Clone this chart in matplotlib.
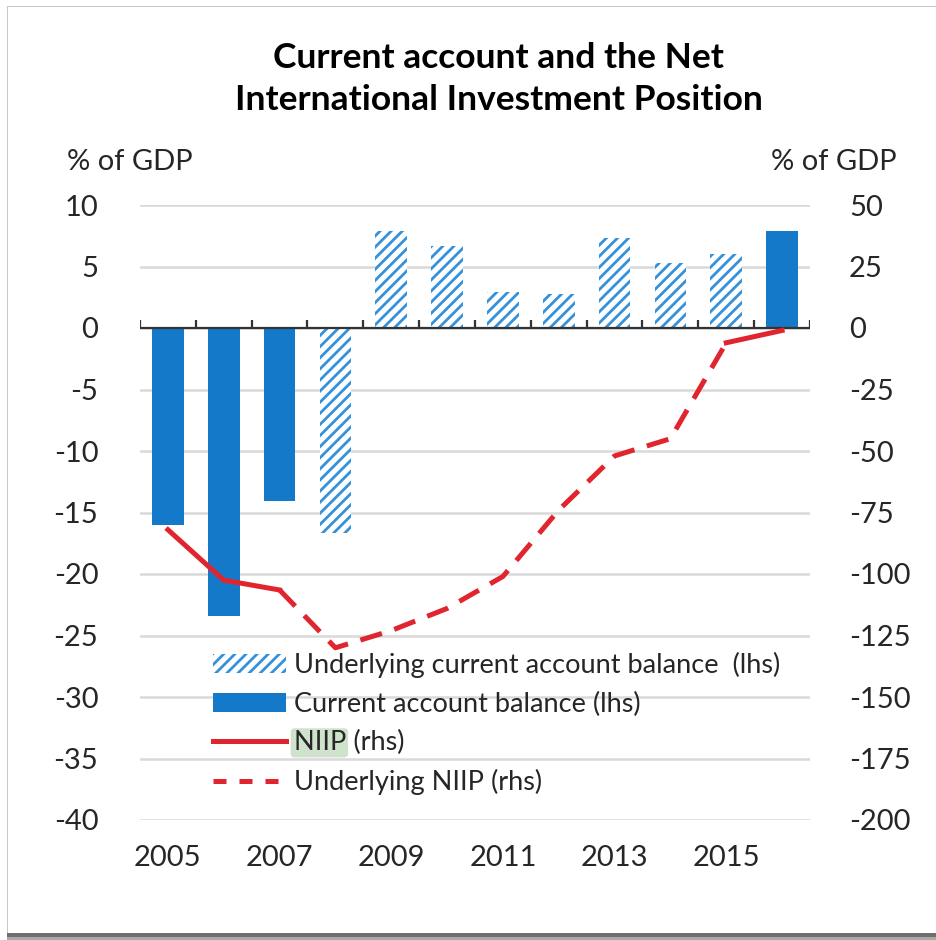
import numpy as np
import matplotlib
matplotlib.use('Agg')
import matplotlib.pyplot as plt
from matplotlib.patches import Patch, FancyBboxPatch, Rectangle
from matplotlib.lines import Line2D
from matplotlib.transforms import IdentityTransform

nan = np.nan
years = list(range(2005, 2017))
# current account, % of GDP (lhs)
ca = [-16.0, -23.4, -14.1, nan, nan, nan, nan, nan, nan, nan, nan, 7.9]
ca_underlying = [nan, nan, nan, -16.7, 7.9, 6.7, 2.9, 2.8, 7.3, 5.3, 6.0, nan]
# net international investment position, % of GDP (rhs)
niip = [-82.0, -102.5, -106.5, nan, nan, nan, nan, nan, nan, nan, -6.0, -1.0]
niip_underlying = [nan, nan, -106.5, -130.0, -123.0, -114.0, -101.0, -74.0,
                   -52.0, -45.0, -6.0, nan]
tick_years = [2005, 2007, 2009, 2011, 2013, 2015]

plt.rcParams['font.family'] = ['Lato', 'DejaVu Sans']
plt.rcParams['axes.unicode_minus'] = False
plt.rcParams['hatch.linewidth'] = 2.0
txt = '#262626'
blue = '#1479c9'
light_blue = '#3592da'
red = '#e1252f'

fig = plt.figure(figsize=(9.37, 9.40), dpi=100)
fig.patch.set_facecolor('white')
ax = fig.add_axes([140/937, 1 - 820/940, 670/937, 615/940])
ax2 = ax.twinx()
for a in (ax, ax2):
    a.set_facecolor('none')
    for s in a.spines.values():
        s.set_visible(False)

x = np.arange(len(years))
ax.bar(x, ca, width=0.57, color=blue, zorder=2)
ax.bar(x, ca_underlying, width=0.57, facecolor='white', edgecolor=light_blue,
       linewidth=0, hatch='///', zorder=2)

# zero line with category tick marks
ax.axhline(0, color='#333333', lw=1.6, zorder=3)
ax.vlines(np.arange(len(years) + 1) - 0.5, 0, 0.65, color='#333333', lw=1.6, zorder=3)

ax.set_xlim(-0.5, len(years) - 0.5)
ax.set_ylim(-40, 10)
ax.set_yticks(np.arange(-40, 11, 5))
ax.yaxis.grid(True, color='#d9d9d9', lw=1.8)
ax.set_axisbelow(True)
ax.set_xticks([years.index(y) for y in tick_years])
ax.set_xticklabels([str(y) for y in tick_years])
ax.tick_params(axis='both', length=0, labelsize=21, labelcolor=txt)
ax.tick_params(axis='y', pad=30)
ax.tick_params(axis='x', pad=18)

ax2.plot(x, niip, color=red, lw=3.6, zorder=4)
ax2.plot(x, niip_underlying, color=red, lw=3.6, dashes=(4.5, 2.6), zorder=4)
ax2.set_ylim(-200, 50)
ax2.set_yticks(np.arange(-200, 51, 25))
ax2.tick_params(axis='y', length=0, labelsize=21, labelcolor=txt, pad=28)

fig.text(0.532, 0.916, 'Current account and the Net\nInternational Investment Position',
         ha='center', va='center', fontsize=25.5, fontweight='bold', color='black',
         linespacing=1.35)
fig.text(67/937, 1 - 162/940, '% of GDP', ha='left', va='center', fontsize=21, color=txt)
fig.text(771/937, 1 - 162/940, '% of GDP', ha='left', va='center', fontsize=21, color=txt)

handles = [
    Patch(facecolor='white', edgecolor=light_blue, linewidth=0, hatch='///'),
    Patch(facecolor=blue),
    Line2D([], [], color=red, lw=3.6),
    Line2D([], [], color=red, lw=3.6, dashes=(2.6, 2.6)),
]
labels = ['Underlying current account balance  (lhs)', 'Current account balance (lhs)',
          'NIIP (rhs)', 'Underlying NIIP (rhs)']
leg = ax2.legend(handles, labels, loc='upper left', bbox_to_anchor=(213/937, 1 - 652/940),
                 bbox_transform=fig.transFigure, frameon=False, fontsize=19.5,
                 handlelength=2.7, handletextpad=0.28, labelspacing=0.5,
                 borderpad=0, borderaxespad=0)
for t in leg.get_texts():
    t.set_color(txt)

# green highlight behind "NIIP"
fig.canvas.draw()
renderer = fig.canvas.get_renderer()
nt = leg.get_texts()[2]
bb = nt.get_window_extent(renderer)
probe = fig.text(0, 0, 'NIIP', fontsize=19.5)
w = probe.get_window_extent(renderer).width
probe.remove()
hl = FancyBboxPatch((bb.x0 - 3, bb.y0 - 2), w + 5, bb.height + 4,
                    boxstyle='round,pad=0,rounding_size=4', facecolor='#cfe2cc',
                    edgecolor='none', transform=IdentityTransform(), zorder=4.5)
ax2.add_artist(hl)

# page frame
fig.add_artist(Rectangle((7/937, 0), 0.0015, 1 - 6/940, transform=fig.transFigure,
                         color='#c8c8c8', lw=0))
fig.add_artist(Rectangle((7/937, 1 - 7/940), 1, 0.0015, transform=fig.transFigure,
                         color='#c8c8c8', lw=0))
fig.add_artist(Rectangle((7/937, 3/940), 1, 4/940, transform=fig.transFigure,
                         color='#6e6e6e', lw=0))
fig.add_artist(Rectangle((7/937, 0), 1, 3/940, transform=fig.transFigure,
                         color='#a8a8a8', lw=0))

fig.savefig('out.png', dpi=100, facecolor='white')
